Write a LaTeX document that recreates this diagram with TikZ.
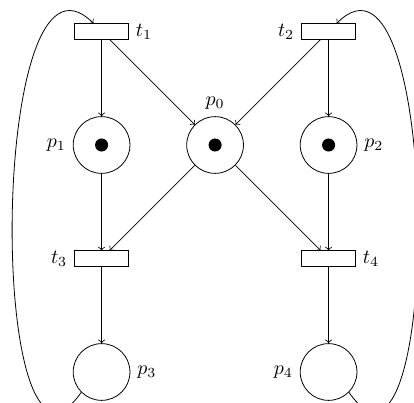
\documentclass[tikz,border=0pt]{standalone}
\usetikzlibrary{arrows}
\begin{document}
\begin{tikzpicture}[
  place/.style={circle,draw,thin,minimum size=1cm,inner sep=0pt},
  transition/.style={rectangle,draw,thin,minimum width=0.95cm,minimum height=0.27cm,inner sep=0pt},
  token/.style={circle,fill=black,minimum size=0.23cm,inner sep=0pt},
  arc/.style={->,thin}
]
\useasboundingbox (0,0) rectangle (7.295,-7.10);
\node[transition,label=right:$t_1$] (t1) at (1.79,-0.555) {};
\node[transition,label=left:$t_2$] (t2) at (5.79,-0.555) {};
\node[place,label=left:$p_1$] (p1) at (1.79,-2.555) {};
\node[place,label=above:$p_0$] (p0) at (3.79,-2.555) {};
\node[place,label=right:$p_2$] (p2) at (5.79,-2.555) {};
\node[token] (k1) at (p1) {};
\node[token] (k0) at (p0) {};
\node[token] (k2) at (p2) {};
\node[transition,label=left:$t_3$] (t3) at (1.79,-4.555) {};
\node[transition,label=right:$t_4$] (t4) at (5.79,-4.555) {};
\node[place,label=right:$p_3$] (p3) at (1.79,-6.555) {};
\node[place,label=left:$p_4$] (p4) at (5.79,-6.555) {};
\draw[arc] (t1) -- (p1);
\draw[arc] (t1) -- (p0);
\draw[arc] (t2) -- (p0);
\draw[arc] (t2) -- (p2);
\draw[arc] (p1) -- (t3);
\draw[arc] (p0) -- (t3);
\draw[arc] (p0) -- (t4);
\draw[arc] (p2) -- (t4);
\draw[arc] (t3) -- (p3);
\draw[arc] (t4) -- (p4);
\draw[arc] (p3.-135) .. controls +(-125:2.9) and +(135:2.64) .. (t1.135);
\draw[arc] (p4.-45) .. controls +(-55:2.9) and +(45:2.64) .. (t2.45);
\end{tikzpicture}
\end{document}
